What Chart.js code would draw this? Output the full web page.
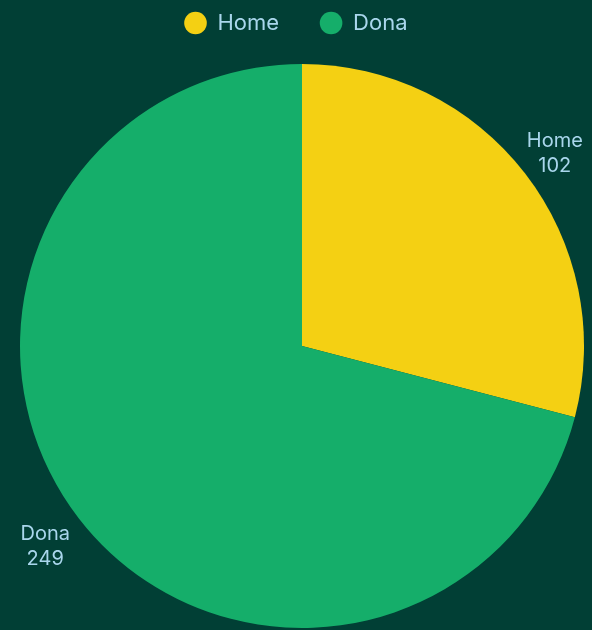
<!DOCTYPE html>
<html>
<head>
<meta charset="utf-8">
<script src="https://cdn.jsdelivr.net/npm/chart.js@4.4.1/dist/chart.umd.min.js"></script>
<style>
  html, body { margin: 0; padding: 0; background: #013f35; }
  #wrap { width: 592px; height: 630px; position: relative; }
</style>
</head>
<body>
<div id="wrap"><canvas id="pieChart"></canvas></div>
<script>
const labels = ['Home', 'Dona'];
const values = [102, 249];
const colors = ['#f4d013', '#15ae6a'];

const TEXT_COLOR = '#a9d6ec';

// extra room under the legend, and keep it centred on the whole canvas
const legendGap = {
    id: 'legendGap',
    beforeInit(chart) {
        const origFit = chart.legend.fit;
        chart.legend.fit = function() {
            origFit.bind(chart.legend)();
            this.height += 20;
        };
    },
    afterLayout(chart) {
        const lg = chart.legend;
        lg.left = 0;
        lg.right = chart.width;
        lg.top += 2;
        lg.bottom += 2;
    }
};

// draws "name\nvalue" just outside each slice
const outsideLabels = {
    id: 'outsideLabels',
    afterDatasetsDraw(chart) {
        const ctx = chart.ctx;
        const meta = chart.getDatasetMeta(0);
        ctx.save();
        ctx.font = '20px Inter';
        ctx.fillStyle = TEXT_COLOR;
        ctx.textAlign = 'center';
        ctx.textBaseline = 'middle';
        meta.data.forEach((arc, i) => {
            const p = arc.getProps(['x', 'y', 'startAngle', 'endAngle', 'outerRadius'], true);
            const mid = (p.startAngle + p.endAngle) / 2;
            const r = p.outerRadius + 40;
            const x = p.x + Math.cos(mid) * r - 2;
            const y = p.y + Math.sin(mid) * r + 4;
            ctx.fillText(labels[i], x, y - 12.5);
            ctx.fillText(String(values[i]), x, y + 12.5);
        });
        ctx.restore();
    }
};

new Chart(document.getElementById('pieChart'), {
    type: 'pie',
    data: {
        labels: labels,
        datasets: [{ data: values, backgroundColor: colors, borderWidth: 0 }]
    },
    options: {
        responsive: true,
        maintainAspectRatio: false,
        animation: false,
        layout: { padding: { left: 20, right: 8, top: 0, bottom: 0 } },
        plugins: {
            legend: {
                position: 'top',
                labels: {
                    usePointStyle: true,
                    pointStyle: 'circle',
                    boxHeight: 16,
                    padding: 10,
                    color: TEXT_COLOR,
                    font: { family: 'Inter', size: 22 },
                    generateLabels(chart) {
                        const items = Chart.overrides.pie.plugins.legend.labels.generateLabels(chart);
                        // wider spacing after all but the last item
                        items.forEach((it, i) => { if (i < items.length - 1) it.text += '     '; });
                        return items;
                    }
                }
            },
            tooltip: { enabled: false }
        }
    },
    plugins: [legendGap, outsideLabels]
});
</script>
</body>
</html>
